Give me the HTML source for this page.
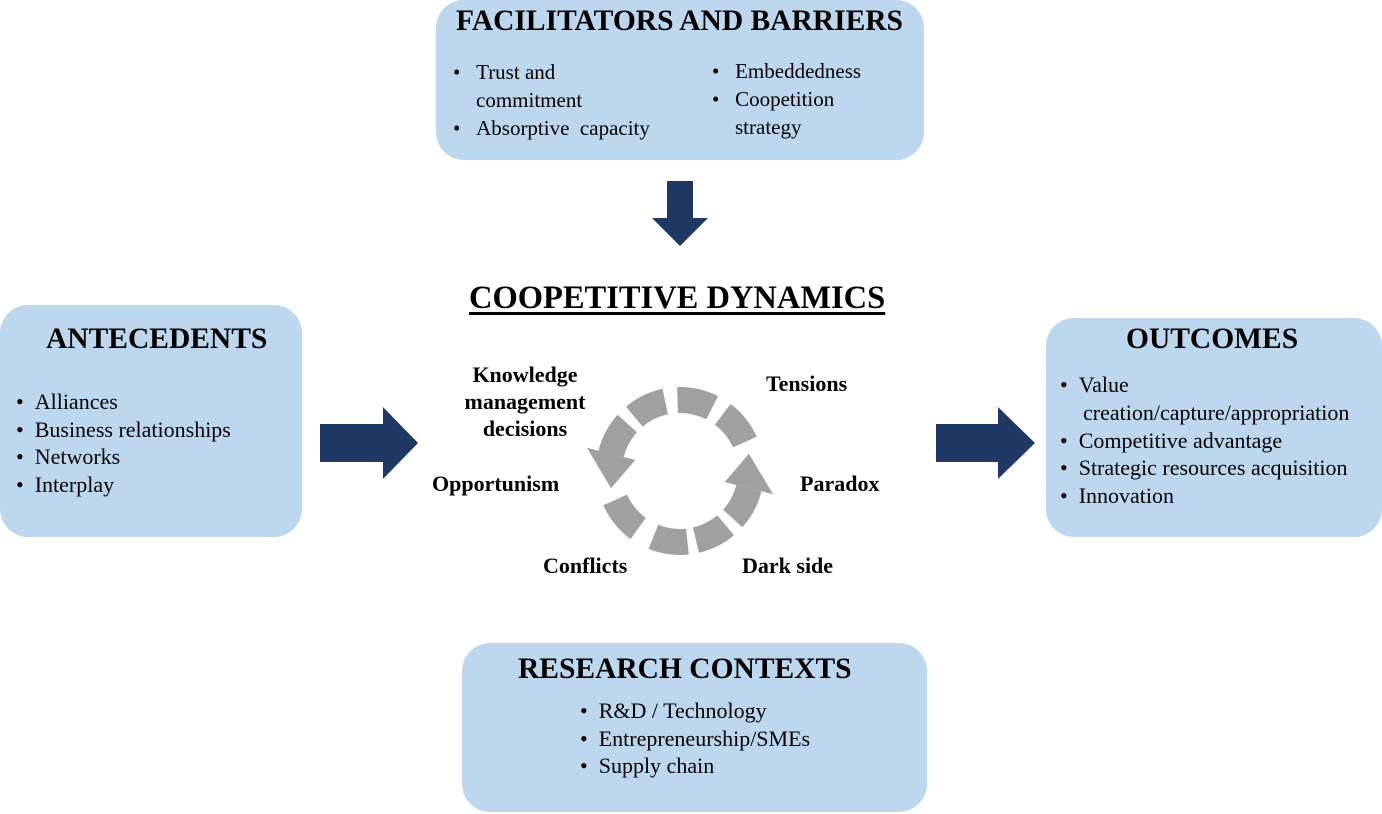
<!DOCTYPE html>
<html><head><meta charset="utf-8"><style>
body{margin:0;width:1382px;height:814px;background:#fff;position:relative;overflow:hidden;font-family:"Liberation Serif",serif;color:#000}
.box{position:absolute;background:#bdd7ee;border-radius:28px}
.t{position:absolute;white-space:nowrap;font-size:22px;line-height:28px}
.h{position:absolute;white-space:nowrap;font-weight:bold;font-size:29.5px}
.b{position:absolute;white-space:nowrap;font-weight:bold;font-size:22px;line-height:27px}
</style></head><body>
<div class="box" style="left:436px;top:0;width:488px;height:160px"></div>
<div class="box" style="left:0;top:305px;width:302px;height:232px"></div>
<div class="box" style="left:1046px;top:318px;width:336px;height:219px"></div>
<div class="box" style="left:462px;top:643px;width:465px;height:169px"></div>

<div class="h" style="left:456px;top:5px">FACILITATORS AND BARRIERS</div>
<div class="t" style="left:453px;top:58px;font-size:21px">•&nbsp;&nbsp;&nbsp;Trust and</div>
<div class="t" style="left:476px;top:86px;font-size:21px">commitment</div>
<div class="t" style="left:453px;top:114px;font-size:21px">•&nbsp;&nbsp;&nbsp;Absorptive&nbsp; capacity</div>
<div class="t" style="left:712px;top:57px;font-size:21px">•&nbsp;&nbsp;&nbsp;Embeddedness</div>
<div class="t" style="left:712px;top:85px;font-size:21px">•&nbsp;&nbsp;&nbsp;Coopetition</div>
<div class="t" style="left:735px;top:113px;font-size:21px">strategy</div>

<div class="h" style="left:46px;top:323px">ANTECEDENTS</div>
<div class="t" style="left:16px;top:388px">•&nbsp;&nbsp;Alliances</div>
<div class="t" style="left:16px;top:416px">•&nbsp;&nbsp;Business relationships</div>
<div class="t" style="left:16px;top:443px">•&nbsp;&nbsp;Networks</div>
<div class="t" style="left:16px;top:471px">•&nbsp;&nbsp;Interplay</div>

<div class="h" style="left:1126px;top:323px">OUTCOMES</div>
<div class="t" style="left:1060px;top:371px">•&nbsp;&nbsp;Value</div>
<div class="t" style="left:1083px;top:399px">creation/capture/appropriation</div>
<div class="t" style="left:1060px;top:427px">•&nbsp;&nbsp;Competitive advantage</div>
<div class="t" style="left:1060px;top:454px">•&nbsp;&nbsp;Strategic resources acquisition</div>
<div class="t" style="left:1060px;top:482px">•&nbsp;&nbsp;Innovation</div>

<div class="h" style="left:518px;top:653px">RESEARCH CONTEXTS</div>
<div class="t" style="left:580px;top:697px">•&nbsp;&nbsp;R&amp;D / Technology</div>
<div class="t" style="left:580px;top:725px">•&nbsp;&nbsp;Entrepreneurship/SMEs</div>
<div class="t" style="left:580px;top:752px">•&nbsp;&nbsp;Supply chain</div>

<div class="h" style="left:469px;top:280px;text-decoration:underline;text-underline-offset:4px;font-size:32.5px">COOPETITIVE DYNAMICS</div>
<div class="b" style="left:460px;top:361px;text-align:center;width:130px">Knowledge<br>management<br>decisions</div>
<div class="b" style="left:766px;top:370px">Tensions</div>
<div class="b" style="left:432px;top:470px">Opportunism</div>
<div class="b" style="left:800px;top:470px">Paradox</div>
<div class="b" style="left:543px;top:552px">Conflicts</div>
<div class="b" style="left:742px;top:552px">Dark side</div>

<svg width="1382" height="814" style="position:absolute;left:0;top:0">
<g fill="#1f3864">
<polygon points="667,181 693,181 693,218 708,218 680,246 652,218 667,218"/>
<polygon points="320,424 383,424 383,407 418,443 383,479 383,462 320,462"/>
<polygon points="936,424 998,424 998,407 1035,443 998,479 998,462 936,462"/>
</g>
<g id="ring" fill="#a0a0a0"></g>
</svg>
<script>
var cx=680,cy=471,r=71,w=13,g=document.getElementById('ring'),s='';
function p(a,rr){a=a*Math.PI/180;return (cx+rr*Math.cos(a)).toFixed(1)+','+(cy+rr*Math.sin(a)).toFixed(1);}
function arc(a,b){var R=r+w,q=r-w;s+='<path d="M'+p(a,R)+' A'+R+','+R+' 0 0 1 '+p(b,R)+' L'+p(b,q)+' A'+q+','+q+' 0 0 0 '+p(a,q)+' Z"/>';}
[[14,42],[50,77],[84,112],[126,156],[194,222],[230,258],[268,297],[307,336]].forEach(function(x){arc(x[0],x[1]);});
function head(b,t){s+='<polygon points="'+p(b,r+25)+' '+p(b,r-25)+' '+p(t,r)+'"/>';}
head(14,-14);head(194,166);
g.innerHTML=s;
</script>
</body></html>
